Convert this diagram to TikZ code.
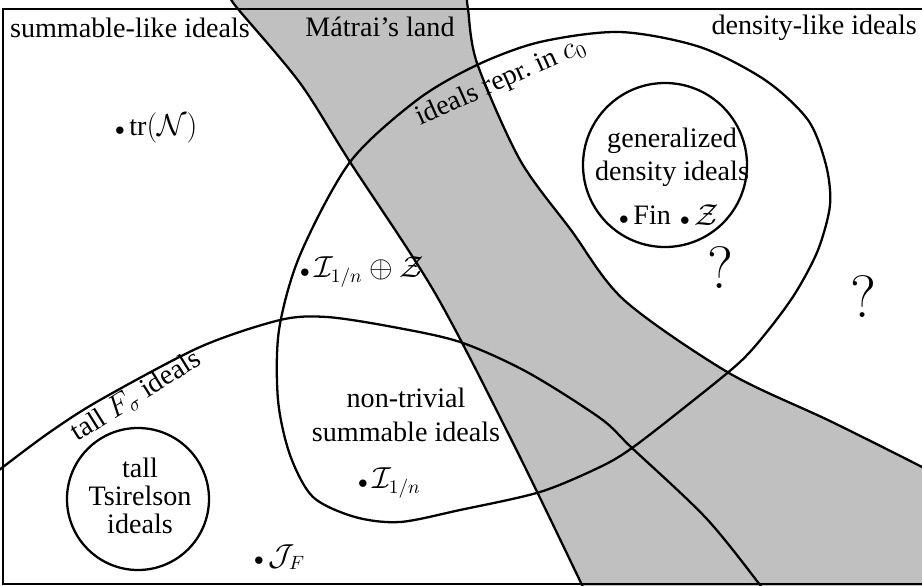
\documentclass[tikz,border=0pt]{standalone}
\usepackage{fontspec}
\setmainfont{Liberation Serif}
\usepackage{amssymb}

\definecolor{landgray}{RGB}{192,192,192}
\newcommand{\dotmark}{$\scriptstyle\bullet$}
\tikzset{
  region/.style={line width=1.3pt},
  lbl/.style={inner sep=1pt, align=center},
  qmark/.style={inner sep=0pt, font=\fontsize{34}{36}\fontfamily{lmr}\selectfont},
}

\begin{document}
\begin{tikzpicture}[x=0.2mm, y=-0.2mm, every node/.style={font=\fontsize{16}{19}\selectfont}]
  \useasboundingbox (0,0) rectangle (922,585);
  \clip (0,0) rectangle (922,585);
  % Matrai's land
  \fill[landgray] plot[smooth] coordinates {(232,0) (238,9) (300,83) (350,162) (435,293) (513,443) (582,585) (586,595)}
    -- (990,595) -- (990,503)
    -- plot[smooth] coordinates {(990,503) (922,467) (830,421) (729,373) (624,300) (571,230) (520,160) (477,63) (468,9) (467,0)}
    -- cycle;
  \draw[region] plot[smooth] coordinates {(232,0) (238,9) (300,83) (350,162) (435,293) (513,443) (582,585) (586,595)};
  \draw[region] plot[smooth] coordinates {(990,503) (922,467) (830,421) (729,373) (624,300) (571,230) (520,160) (477,63) (468,9) (467,0)};
  %
  % frame
  \draw[region] (3,9) rectangle (990,584);
  %
  % ideals repr. in c_0
  \draw[region] plot[smooth cycle] coordinates {(620,32) (700,47) (765,80) (808,120) (826,165) (830,205)
    (818,250) (796,292) (770,328) (740,362) (685,407) (632,448) (600,467) (540,492) (460,510) (400,522)
    (355,517) (313,497) (290,455) (278,400) (279,330) (300,255) (350,162) (417,100) (477,65) (540,42)};
  % tall F_sigma
  \draw[region] plot[smooth] coordinates {(-10,478) (3,467) (50,432) (100,400) (200,347) (280,320) (327,317)
    (393,327) (460,342) (527,372) (600,418) (632,448) (706,518) (760,585) (765,595)};
  % small circles
  \draw[region] (665,165) circle (82);
  \draw[region] (138,499) circle (71);
  %
  \node[lbl, anchor=west] (summ) at (8,28) {summable-like ideals};
  \node[lbl] (matrai) at (380,27) {Mátrai’s land};
  \node[lbl, anchor=east] (dens) at (919,28) {density-like ideals};
  \node[lbl, anchor=west] (trN) at (113,128) {\dotmark\,tr$(\mathcal{N})$};
  \node[lbl, rotate=24] (repr) at (501,82) {ideals repr.\ in $c_0$};
  \node[lbl, rotate=32] (fsig) at (136,396) {tall $F_\sigma$ ideals};
  \node[lbl] (gen) at (672,157) {generalized\\density ideals};
  \node[lbl, anchor=west] (fin) at (617,215) {\dotmark\,Fin};
  \node[lbl, anchor=west] (zz) at (678,215) {\dotmark\,$\mathcal{Z}$};
  \node[qmark] (q1) at (720,268) {?};
  \node[qmark] (q2) at (863,297) {?};
  \node[lbl, anchor=west] (iz) at (298,272) {\dotmark\,$\mathcal{I}_{1/n}\oplus\mathcal{Z}$};
  \node[lbl] (nontriv) at (406,415) {non-trivial\\summable ideals};
  \node[lbl, anchor=west] (ione) at (356,483) {\dotmark\,$\mathcal{I}_{1/n}$};
  \node[lbl, font=\fontsize{16}{16}\selectfont] (tsir) at (140,496) {tall\\Tsirelson\\ideals};
  \node[lbl, anchor=west] (jf) at (252,557) {\dotmark\,$\mathcal{J}_F$};
\end{tikzpicture}
\end{document}
